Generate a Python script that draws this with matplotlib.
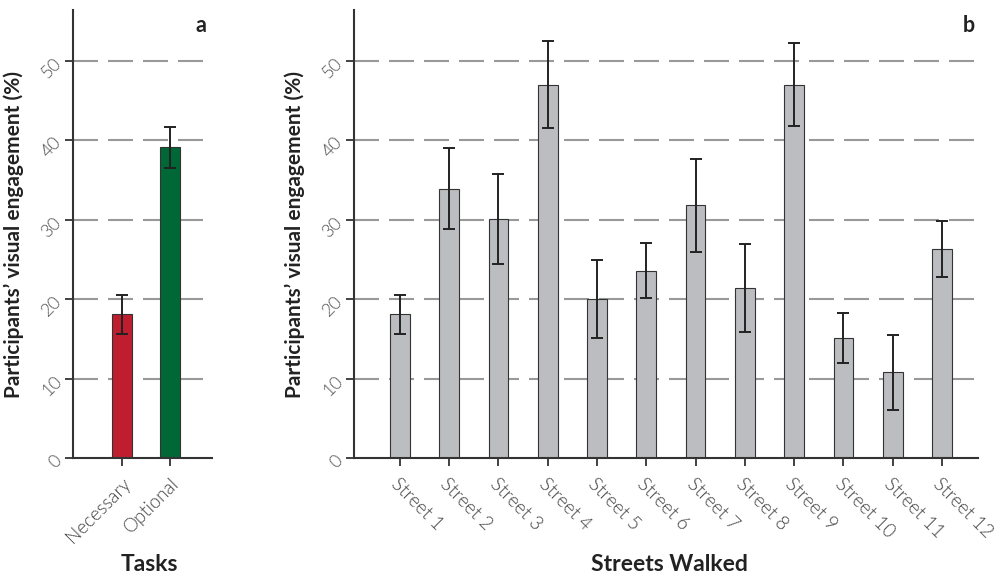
import matplotlib
matplotlib.use('Agg')
import matplotlib.pyplot as plt

# panel a: task types
tasks = ['Necessary', 'Optional']
task_mean = [18.1, 39.1]
task_err = [2.45, 2.55]
task_colors = ['#be1e2d', '#006837']

# panel b: streets walked
streets = ['Street 1', 'Street 2', 'Street 3', 'Street 4', 'Street 5', 'Street 6',
           'Street 7', 'Street 8', 'Street 9', 'Street 10', 'Street 11', 'Street 12']
street_mean = [18.1, 33.9, 30.1, 47.0, 20.0, 23.6, 31.8, 21.4, 47.0, 15.1, 10.8, 26.3]
street_err = [2.45, 5.1, 5.7, 5.45, 4.95, 3.45, 5.85, 5.55, 5.2, 3.2, 4.7, 3.5]

yticks = [0, 10, 20, 30, 40, 50]

plt.rcParams['font.family'] = ['Lato', 'DejaVu Sans']

fig = plt.figure(figsize=(10.08, 5.78), dpi=100)
ax_a = fig.add_axes([73 / 1008, 1 - 458 / 578, 139 / 1008, 448 / 578])
ax_b = fig.add_axes([354 / 1008, 1 - 458 / 578, 624 / 1008, 448 / 578])


def style_axis(ax, xs, labels, rot, ha):
    ax.set_ylim(0, 56.4)
    ax.set_yticks(yticks)
    ax.set_yticklabels([str(t) for t in yticks], rotation=45, color='#555555',
                       fontsize=13, fontweight=300, ha='right', va='center',
                       rotation_mode='anchor')
    ax.set_xticks(xs)
    ax.set_xticklabels(labels, rotation=rot, ha=ha, va='top', rotation_mode='anchor',
                       color='#444444', fontsize=13.5, fontweight=300)
    for t in yticks[1:]:
        ax.axhline(t, color='#999999', lw=1.5, dashes=(12, 4.8), zorder=0)
    for s in ['top', 'right']:
        ax.spines[s].set_visible(False)
    for s in ['left', 'bottom']:
        ax.spines[s].set_color('#333333')
        ax.spines[s].set_linewidth(1.5)
    ax.tick_params(axis='both', length=6, width=1.3, color='#333333')
    ax.tick_params(axis='y', pad=4)
    ax.tick_params(axis='x', pad=6)
    ax.set_ylabel("Participants\u2019 visual engagement (%)", fontsize=15,
                  fontweight='bold', color='#222222')


xa = list(range(len(tasks)))
ax_a.bar(xa, task_mean, width=0.42, color=task_colors, edgecolor='#333333',
         linewidth=0.8, zorder=2)
ax_a.errorbar(xa, task_mean, yerr=task_err, fmt='none', ecolor='#222222',
              elinewidth=1.4, capsize=4, capthick=1.4, zorder=3)
ax_a.set_xlim(-1.02, 1.875)
style_axis(ax_a, xa, tasks, 45, 'right')
ax_a.set_xlabel('Tasks', fontsize=16.5, fontweight='bold', color='#222222')
ax_a.xaxis.set_label_coords(0.55, -0.215)
ax_a.yaxis.set_label_coords(-0.35, 0.5)
ax_a.text(0.96, 0.965, 'a', transform=ax_a.transAxes, ha='right', va='center',
          fontsize=15.5, fontweight='bold', color='#222222')

xb = list(range(len(streets)))
ax_b.bar(xb, street_mean, width=0.4, color='#bcbdc1', edgecolor='#333333',
         linewidth=0.8, zorder=2)
ax_b.errorbar(xb, street_mean, yerr=street_err, fmt='none', ecolor='#222222',
              elinewidth=1.4, capsize=4, capthick=1.4, zorder=3)
ax_b.set_xlim(-0.93, 11.73)
style_axis(ax_b, xb, streets, -45, 'left')
ax_b.set_xlabel('Streets Walked', fontsize=16.5, fontweight='bold', color='#222222')
ax_b.xaxis.set_label_coords(0.505, -0.215)
ax_b.yaxis.set_label_coords(-0.078, 0.5)
ax_b.text(0.995, 0.965, 'b', transform=ax_b.transAxes, ha='right', va='center',
          fontsize=15.5, fontweight='bold', color='#222222')

fig.savefig('out.png', dpi=100)
